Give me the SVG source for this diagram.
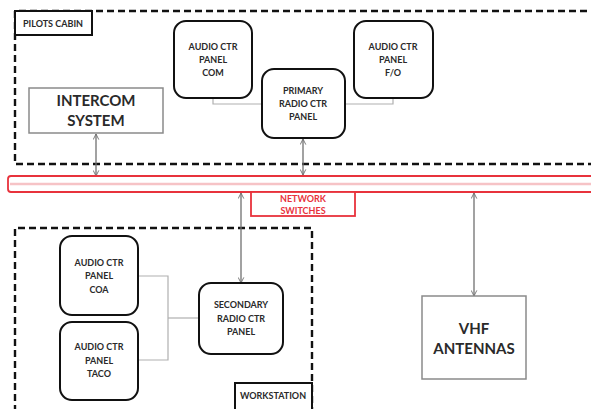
<svg xmlns="http://www.w3.org/2000/svg" width="591" height="409" viewBox="0 0 591 409">
  <defs>
    <marker id="head" viewBox="0 0 10 10" refX="9" refY="5" markerWidth="7" markerHeight="7" orient="auto-start-reverse" markerUnits="userSpaceOnUse">
      <path d="M1,1 L9,5 L1,9" fill="none" stroke="#707070" stroke-width="1.3"/>
    </marker>
  </defs>
  <style>
    .zone { fill: none; stroke: #111; stroke-width: 2.4; stroke-dasharray: 7 4; }
    .tag { fill: #fff; stroke: #111; stroke-width: 2; }
    .panel { fill: #fff; stroke: #111; stroke-width: 2; }
    .plain { fill: #fff; stroke: #8a8a8a; stroke-width: 1.5; }
    .link { fill: none; stroke: #b0b0b0; stroke-width: 1.2; }
    .flow { fill: none; stroke: #707070; stroke-width: 1.3; marker-start: url(#head); marker-end: url(#head); }
    text { font-family: Lato, "Open Sans", "Liberation Sans", sans-serif; font-weight: bold; fill: #2a2a2a; text-anchor: middle; }
    .s { font-size: 9px; }
    .l { font-size: 15px; }
    .red { fill: #e8323c; }
  </style>

  <!-- areas -->
  <g id="pilots-cabin">
    <path class="zone" d="M598,11 H15 V164 H598"/>
    <rect class="tag" x="15" y="11" width="77" height="24"/>
    <text class="s" x="53" y="27">PILOTS CABIN</text>
  </g>
  <g id="workstation">
    <path class="zone" d="M15,412 V228 H312 V412"/>
    <rect class="tag" x="235" y="383" width="77" height="30"/>
    <text class="s" x="273" y="399">WORKSTATION</text>
  </g>

  <!-- connectors -->
  <g id="connectors">
    <path class="link" d="M213,98 V104 H262"/>
    <path class="link" d="M393,98 V104 H345"/>
    <path class="link" d="M138,276 H168 V360 H138"/>
    <path class="link" d="M168,318 H199"/>
    <line class="flow" x1="96" y1="134" x2="96" y2="176"/>
    <line class="flow" x1="303" y1="139" x2="303" y2="175"/>
    <line class="flow" x1="241" y1="193" x2="241" y2="283"/>
    <line class="flow" x1="474" y1="193" x2="474" y2="296"/>
  </g>

  <!-- network bus -->
  <g id="network-switches">
    <rect x="8" y="176" width="600" height="16" rx="3" fill="#fff" stroke="#e8323c" stroke-width="1.8"/>
    <line x1="10" y1="184" x2="598" y2="184" stroke="#f6c3c6" stroke-width="2.5"/>
    <rect x="251" y="192" width="104" height="24" fill="#fff" stroke="#e8323c" stroke-width="1.8"/>
    <text class="s red" x="303" y="202">NETWORK</text>
    <text class="s red" x="303" y="214">SWITCHES</text>
  </g>

  <!-- nodes -->
  <g id="intercom-system">
    <rect class="plain" x="29" y="88" width="134" height="45"/>
    <text class="l" x="96" y="106">INTERCOM</text>
    <text class="l" x="96" y="126">SYSTEM</text>
  </g>
  <g id="audio-com">
    <rect class="panel" x="174" y="21" width="78" height="77" rx="12"/>
    <text class="s" x="213" y="50">AUDIO CTR</text>
    <text class="s" x="213" y="63">PANEL</text>
    <text class="s" x="213" y="76">COM</text>
  </g>
  <g id="primary-radio">
    <rect class="panel" x="262" y="69" width="83" height="69" rx="12"/>
    <text class="s" x="303" y="94">PRIMARY</text>
    <text class="s" x="303" y="107">RADIO CTR</text>
    <text class="s" x="303" y="120">PANEL</text>
  </g>
  <g id="audio-fo">
    <rect class="panel" x="354" y="21" width="79" height="77" rx="12"/>
    <text class="s" x="393" y="50">AUDIO CTR</text>
    <text class="s" x="393" y="63">PANEL</text>
    <text class="s" x="393" y="76">F/O</text>
  </g>
  <g id="audio-coa">
    <rect class="panel" x="60" y="236" width="78" height="79" rx="12"/>
    <text class="s" x="99" y="266">AUDIO CTR</text>
    <text class="s" x="99" y="279">PANEL</text>
    <text class="s" x="99" y="293">COA</text>
  </g>
  <g id="audio-taco">
    <rect class="panel" x="60" y="322" width="78" height="78" rx="12"/>
    <text class="s" x="99" y="350">AUDIO CTR</text>
    <text class="s" x="99" y="364">PANEL</text>
    <text class="s" x="99" y="377">TACO</text>
  </g>
  <g id="secondary-radio">
    <rect class="panel" x="199" y="283" width="84" height="71" rx="12"/>
    <text class="s" x="241" y="308">SECONDARY</text>
    <text class="s" x="241" y="322">RADIO CTR</text>
    <text class="s" x="241" y="335">PANEL</text>
  </g>
  <g id="vhf-antennas">
    <rect class="plain" x="422" y="296" width="104" height="83"/>
    <text class="l" x="474" y="334">VHF</text>
    <text class="l" x="474" y="354">ANTENNAS</text>
  </g>
</svg>
